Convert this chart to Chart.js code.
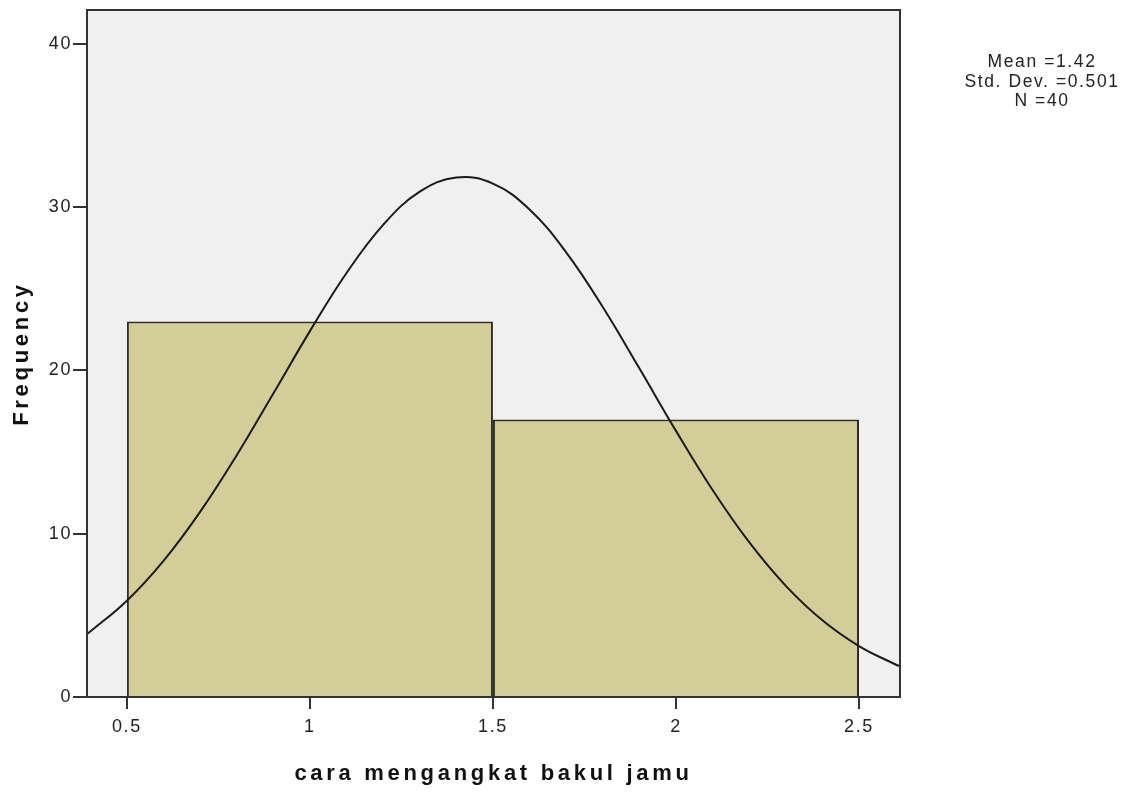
<!DOCTYPE html>
<html>
<head>
<meta charset="utf-8">
<script src="https://cdn.jsdelivr.net/npm/chart.js@4.4.0/dist/chart.umd.min.js"></script>
<style>
  html, body { margin: 0; padding: 0; background: #fff; }
  #wrap { width: 1127px; height: 795px; position: relative; }
</style>
</head>
<body>
<div id="wrap"><canvas id="chart"></canvas></div>
<script>
// histogram bins (centre of each bin, width 1) and their counts
const binCenters = [1, 2];
const binCounts = [23, 17];

// normal curve
const curveX = [0.39, 0.4, 0.5, 0.6, 0.7, 0.8, 0.9, 1.0, 1.1, 1.2, 1.3, 1.4, 1.5,
                1.6, 1.7, 1.8, 1.9, 2.0, 2.1, 2.2, 2.3, 2.4, 2.5, 2.6, 2.61];
const curveY = [3.85, 4.01, 5.90, 8.34, 11.34, 14.81, 18.59, 22.41, 25.97, 28.92, 30.95, 31.82, 31.45,
                29.86, 27.24, 23.89, 20.13, 16.30, 12.68, 9.48, 6.81, 4.70, 3.12, 1.99, 1.90];

const xTicks = [0.5, 1, 1.5, 2, 2.5];
const yTicks = [0, 10, 20, 30, 40];

const xTitle = 'cara mengangkat bakul jamu';
const yTitle = 'Frequency';
const statLines = ['Mean =1.42', 'Std. Dev. =0.501', 'N =40'];

const axisColor = '#333333';
const sans = '"Liberation Sans", Arial, sans-serif';

// plot background, frame, axis titles and the stats text
const frame = {
    id: 'frame',
    beforeDraw(chart) {
        const { ctx, chartArea: a } = chart;
        ctx.letterSpacing = '1.6px';   // SPSS text is spaced out
        ctx.save();
        ctx.fillStyle = '#f0f0f0';
        ctx.fillRect(a.left, a.top, a.right - a.left, a.bottom - a.top);
        ctx.restore();
    },
    afterDraw(chart) {
        const { ctx, chartArea: a } = chart;
        ctx.save();
        ctx.strokeStyle = axisColor;
        ctx.lineWidth = 2;
        ctx.strokeRect(a.left, a.top, a.right - a.left, a.bottom - a.top);

        ctx.fillStyle = '#111';
        ctx.textAlign = 'center';
        ctx.textBaseline = 'middle';
        ctx.letterSpacing = '3.7px';
        ctx.font = 'bold 22px ' + sans;
        ctx.fillText(xTitle, (a.left + a.right) / 2, 774);
        ctx.save();
        ctx.translate(22, (a.top + a.bottom) / 2);
        ctx.rotate(-Math.PI / 2);
        ctx.fillText(yTitle, 0, 0);
        ctx.restore();

        ctx.fillStyle = '#222';
        ctx.letterSpacing = '1.6px';
        ctx.font = '17.5px ' + sans;
        statLines.forEach((s, i) => ctx.fillText(s, 1042, 62 + i * 19.7));
        ctx.restore();
    }
};

const ctx = document.getElementById('chart').getContext('2d');
new Chart(ctx, {
    type: 'bar',
    data: {
        datasets: [
            {
                type: 'line',
                data: curveX.map((x, i) => ({ x: x, y: curveY[i] })),
                borderColor: '#1a1a1a',
                borderWidth: 2,
                pointRadius: 0,
                tension: 0.4,
                fill: false,
                order: 0
            },
            {
                type: 'bar',
                data: binCenters.map((x, i) => ({ x: x, y: binCounts[i] })),
                backgroundColor: '#d3ce98',
                borderColor: '#2e2e26',
                borderWidth: 2,
                // ruler takes the 0.5 tick spacing, so double it to fill a bin of width 1
                barPercentage: 2,
                categoryPercentage: 1,
                order: 1
            }
        ]
    },
    options: {
        responsive: true,
        maintainAspectRatio: false,
        animation: false,
        layout: { padding: { top: 10, right: 227, left: 0, bottom: 0 } },
        plugins: {
            legend: { display: false },
            tooltip: { enabled: false }
        },
        scales: {
            x: {
                type: 'linear',
                offset: false,
                min: 0.391,
                max: 2.612,
                afterBuildTicks: (s) => { s.ticks = xTicks.map(v => ({ value: v })); },
                afterFit: (s) => { s.height = 98; s.paddingLeft = 0; s.paddingRight = 0; },
                grid: { offset: false, drawOnChartArea: false, drawTicks: true, tickLength: 12, color: axisColor, lineWidth: 2 },
                border: { display: true, color: axisColor, width: 2 },
                ticks: {
                    color: '#222',
                    padding: 7,
                    font: { family: sans, size: 18 },
                    callback: (v) => String(v)
                }
            },
            y: {
                min: 0,
                max: 42.08,
                afterBuildTicks: (s) => { s.ticks = yTicks.map(v => ({ value: v })); },
                afterFit: (s) => { s.width = 87; s.paddingTop = 0; s.paddingBottom = 0; },
                grid: { drawOnChartArea: false, drawTicks: true, tickLength: 14, color: axisColor, lineWidth: 2 },
                border: { display: true, color: axisColor, width: 2 },
                ticks: {
                    color: '#222',
                    padding: 1,
                    font: { family: sans, size: 18 }
                }
            }
        }
    },
    plugins: [frame]
});
</script>
</body>
</html>
